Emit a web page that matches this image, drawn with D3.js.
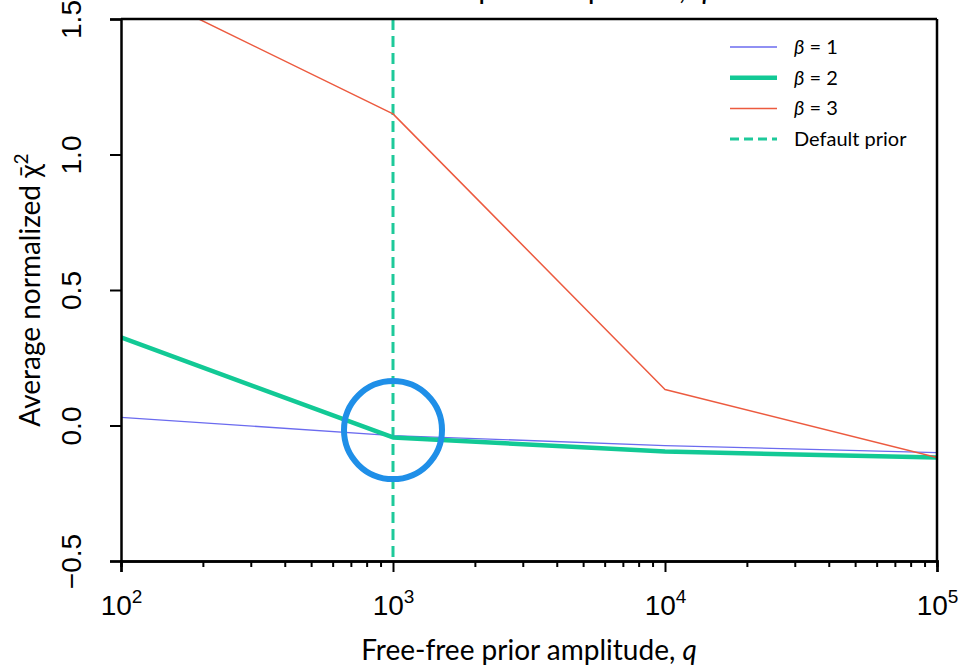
<!DOCTYPE html>
<html>
<head>
<meta charset="utf-8">
<script src="https://cdn.jsdelivr.net/npm/d3@7"></script>
<style>
  body { margin: 0; background: #fff; }
  svg { display: block; font-family: Lato, "DejaVu Sans", sans-serif; }
</style>
</head>
<body>
<svg id="chart" width="963" height="670"></svg>
<script>
// prior amplitudes q
const qValues = [1e2, 1e3, 1e4, 1e5];
// average normalized chi^2 per beta
const beta1 = [0.03, -0.037, -0.074, -0.10];
const beta2 = [0.325, -0.044, -0.096, -0.118];
const beta3 = [1.64, 1.15, 0.133, -0.118];
const defaultPrior = 1e3;
const xMajorTicks = [1e2, 1e3, 1e4, 1e5];
const yTicks = [-0.5, 0.0, 0.5, 1.0, 1.5];

const series = [
  { beta: 1, values: beta1, color: '#6b6bef', width: 1.3 },
  { beta: 2, values: beta2, color: '#12c995', width: 4.5 },
  { beta: 3, values: beta3, color: '#ec5a3f', width: 1.5 }
];
const priorColor = '#1ec99a';

const margin = { top: 19, right: 26, bottom: 109, left: 121 };
const width = 963 - margin.left - margin.right;
const height = 670 - margin.top - margin.bottom;

const svg = d3.select('#chart');

// clip the lines to the axes box
svg.append('clipPath').attr('id', 'plot-clip')
  .append('rect').attr('width', width).attr('height', height);

const g = svg.append('g').attr('transform', `translate(${margin.left},${margin.top})`);

// ==================== SCALES ====================
const x = d3.scaleLog().domain([1e2, 1e5]).range([0, width]);
const y = d3.scaleLinear().domain([-0.5, 1.5]).range([height, 0]);

// ==================== LINES ====================
const line = d3.line()
  .x((d, i) => x(qValues[i]))
  .y(d => y(d));

const plot = g.append('g').attr('clip-path', 'url(#plot-clip)');

plot.append('line')
  .attr('x1', x(defaultPrior)).attr('x2', x(defaultPrior))
  .attr('y1', 0).attr('y2', height)
  .attr('stroke', priorColor)
  .attr('stroke-width', 3)
  .attr('stroke-dasharray', '11,6');

series.forEach(s => {
  plot.append('path')
    .datum(s.values)
    .attr('d', line)
    .attr('fill', 'none')
    .attr('stroke', s.color)
    .attr('stroke-width', s.width)
    .attr('stroke-linejoin', 'round');
});

// highlight circle around default prior
g.append('circle')
  .attr('cx', x(defaultPrior))
  .attr('cy', y(-0.017))
  .attr('r', 49)
  .attr('fill', 'none')
  .attr('stroke', '#1f8fe8')
  .attr('stroke-width', 6);

// ==================== AXES ====================
const minorTicks = [];
[1e2, 1e3, 1e4].forEach(base => {
  for (let k = 2; k <= 9; k++) minorTicks.push(base * k);
});

g.append('g')
  .attr('class', 'x-minor')
  .attr('transform', `translate(0,${height})`)
  .call(d3.axisBottom(x).tickValues(minorTicks).tickSize(6).tickFormat(''));

const xAxis = g.append('g')
  .attr('class', 'x-axis')
  .attr('transform', `translate(0,${height})`)
  .call(d3.axisBottom(x).tickValues(xMajorTicks).tickSize(11).tickFormat(''));

xAxis.selectAll('.tick').each(function (d) {
  const t = d3.select(this).append('text')
    .attr('y', 54)
    .attr('fill', '#000')
    .attr('text-anchor', 'middle')
    .style('font-size', '28px');
  t.append('tspan').text('10');
  t.append('tspan').attr('dy', -12).style('font-size', '19px').text(Math.round(Math.log10(d)));
});

const yAxis = g.append('g')
  .attr('class', 'y-axis')
  .call(d3.axisLeft(y).tickValues(yTicks).tickSize(11).tickFormat(d3.format('.1f')));

yAxis.selectAll('.tick text')
  .attr('x', 0).attr('dy', null)
  .attr('text-anchor', 'middle')
  .attr('transform', 'translate(-40,0) rotate(-90)')
  .style('font-size', '28px')
  .attr('fill', '#000');

g.selectAll('.domain').attr('stroke', '#000').attr('stroke-width', 2.5);
g.selectAll('.tick line').attr('stroke', '#000').attr('stroke-width', 2);

// top and right spines
g.append('line').attr('x1', 0).attr('x2', width).attr('y1', 0).attr('y2', 0)
  .attr('stroke', '#000').attr('stroke-width', 2.5);
g.append('line').attr('x1', width).attr('x2', width).attr('y1', 0).attr('y2', height)
  .attr('stroke', '#000').attr('stroke-width', 2.5);

// ==================== LABELS ====================
// title sits above the figure edge, only its descenders show (as in the source)
svg.append('text')
  .attr('x', margin.left + width / 2)
  .attr('y', -1)
  .attr('text-anchor', 'middle')
  .style('font-size', '30px')
  .text('Free-free prior amplitude, ')
  .append('tspan').style('font-style', 'italic').text('q');

const xLabel = svg.append('text')
  .attr('x', margin.left + width / 2)
  .attr('y', 660)
  .attr('text-anchor', 'middle')
  .style('font-size', '28px')
  .text('Free-free prior amplitude, ');
xLabel.append('tspan').style('font-style', 'italic').text('q');

const yLabel = svg.append('text')
  .attr('transform', `translate(40,${margin.top + height / 2}) rotate(-90)`)
  .attr('text-anchor', 'middle')
  .style('font-size', '28px')
  .text('Average normalized ');
yLabel.append('tspan').text('χ\u0304');
yLabel.append('tspan').attr('dy', -12).style('font-size', '19px').text('2');

// ==================== LEGEND ====================
const legendItems = series.map(s => ({ beta: s.beta, color: s.color, width: s.width, dash: null }))
  .concat([{ label: 'Default prior', color: priorColor, width: 3, dash: '9,5' }]);

const legend = svg.append('g').attr('transform', 'translate(730,47)');
legendItems.forEach((item, i) => {
  const row = legend.append('g').attr('transform', `translate(0,${i * 30.7})`);
  row.append('line')
    .attr('x1', 0).attr('x2', 47).attr('y1', 0).attr('y2', 0)
    .attr('stroke', item.color)
    .attr('stroke-width', item.width)
    .attr('stroke-dasharray', item.dash);
  const t = row.append('text')
    .attr('x', 64).attr('dy', '0.35em')
    .style('font-size', '20px');
  if (item.label) {
    t.text(item.label);
  } else {
    t.append('tspan').style('font-style', 'italic').text('β');
    t.append('tspan').text(` = ${item.beta}`);
  }
});
</script>
</body>
</html>
